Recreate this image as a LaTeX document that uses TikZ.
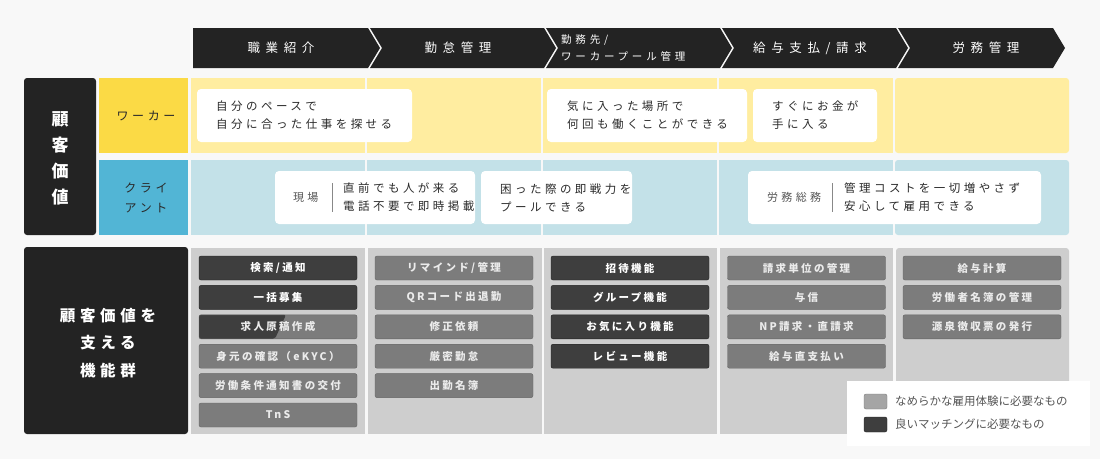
\documentclass[tikz,border=0pt]{standalone}
\usepackage{fontspec}
\setmainfont{Noto Sans CJK JP}
\newfontfamily\jptrack[LetterSpace=30]{Noto Sans CJK JP}
\newfontfamily\jpwide[LetterSpace=45]{Noto Sans CJK JP}
\newfontfamily\jpmid[LetterSpace=36]{Noto Sans CJK JP}
\newfontfamily\jpbtn[LetterSpace=22]{Noto Sans CJK JP}
\usepackage{xcolor}
\definecolor{kkbg}{HTML}{F8F8F8}
\definecolor{kkblack}{HTML}{232323}
\definecolor{kkyellow}{HTML}{FBDA45}
\definecolor{kkyellowlt}{HTML}{FFEDA0}
\definecolor{kkblue}{HTML}{52B5D5}
\definecolor{kkbluelt}{HTML}{C3E1E8}
\definecolor{kkcol}{HTML}{CECECE}
\definecolor{kkbtndark}{HTML}{3E3E3E}
\definecolor{kkbtnmid}{HTML}{7C7C7C}
\definecolor{kklegmid}{HTML}{A5A5A5}
\definecolor{kktext}{HTML}{2A2A2A}
\definecolor{kksubtext}{HTML}{555555}
\usepackage{tikz}
\usetikzlibrary{positioning, calc}

\begin{document}
\begin{tikzpicture}[
    x=1pt, y=-1pt,
    node distance=5pt,
    chev/.style={fill=kkblack},
    chevtext/.style={font=\jpwide\fontsize{12.5}{14}\selectfont, text=white},
    bubble/.style={fill=white, rounded corners=4pt},
    bubbletext/.style={font=\jptrack\fontsize{11.5}{18}\selectfont, text=kktext, align=left, anchor=west, inner sep=0pt},
    sitetag/.style={font=\jptrack\fontsize{11}{13}\selectfont, text=kksubtext, anchor=west, inner sep=0pt},
    btn/.style={rounded corners=2pt, minimum width=158pt, minimum height=24pt, inner sep=0pt, font=\jpbtn\bfseries\fontsize{10.5}{12}\selectfont},
    btndark/.style={btn, fill=kkbtndark, draw=kkblack, text=white},
    btnmid/.style={btn, fill=kkbtnmid, draw=kkbtndark!80, text=white!92!black},
    legtext/.style={font=\fontsize{11.5}{13}\selectfont, text=kksubtext, anchor=west, inner sep=0pt},
]

\useasboundingbox (0,0) rectangle (1100,459);
\fill[kkbg] (0,0) rectangle (1100,459);

% Header chevrons
\fill[chev] (193,28) -- (368,28) -- (380,48) -- (368,68) -- (193,68) -- cycle;
\fill[chev] (370,28) -- (544,28) -- (556,48) -- (544,68) -- (370,68) -- (382,48) -- cycle;
\fill[chev] (546,28) -- (720,28) -- (732,48) -- (720,68) -- (546,68) -- (558,48) -- cycle;
\fill[chev] (722,28) -- (896,28) -- (908,48) -- (896,68) -- (722,68) -- (734,48) -- cycle;
\fill[chev] (898,28) -- (1053,28) -- (1065,48) -- (1053,68) -- (898,68) -- (910,48) -- cycle;

\node[chevtext] (shokugyo) at (281,48) {職業紹介};
\node[chevtext] (kintai) at (458,48) {勤怠管理};
\node[chevtext, font=\jpmid\fontsize{10.5}{17}\selectfont, align=left, anchor=west, inner sep=0pt] (pool) at (561,48.5) {勤務先/\\ワーカープール管理};
\node[chevtext] (kyuyo) at (810,48) {給与支払/請求};
\node[chevtext] (romu) at (986,48) {労務管理};

% Customer value rows
\fill[kkblack, rounded corners=3pt] (24,78) rectangle (96,235);
\node[font=\bfseries\fontsize{17}{26}\selectfont, text=white, align=center] (kachi) at (60,158) {顧\\客\\価\\値};

\fill[kkyellow] (99,78) rectangle (188,153);
\node[chevtext, text=kktext, font=\jptrack\fontsize{12}{14}\selectfont] (worker) at (146,116) {ワーカー};
\fill[kkblue] (99,160) rectangle (188,235);
\node[chevtext, text=kktext, align=center, font=\jptrack\fontsize{12}{20}\selectfont] (client) at (146,198) {クライ\\アント};

\fill[kkyellowlt] (191,78) rectangle (365,153);
\fill[kkyellowlt] (367,78) rectangle (541,153);
\fill[kkyellowlt] (543,78) rectangle (717,153);
\fill[kkyellowlt] (719,78) rectangle (893,153);
\fill[kkyellowlt, rounded corners=3pt] (895,78) rectangle (1069,153);

\fill[kkbluelt] (191,160) rectangle (365,235);
\fill[kkbluelt] (367,160) rectangle (541,235);
\fill[kkbluelt] (543,160) rectangle (717,235);
\fill[kkbluelt] (719,160) rectangle (893,235);
\fill[kkbluelt, rounded corners=3pt] (895,160) rectangle (1069,235);

% Worker values
\fill[bubble] (197,89) rectangle (412,142);
\node[bubbletext] (pace) at (216,115.5) {自分のペースで\\自分に合った仕事を探せる};
\fill[bubble] (547,89) rectangle (747,142);
\node[bubbletext] (basho) at (567,115.5) {気に入った場所で\\何回も働くことができる};
\fill[bubble] (753,89) rectangle (877,142);
\node[bubbletext] (okane) at (772,115.5) {すぐにお金が\\手に入る};

% Client values
\fill[bubble] (275,171) rectangle (475,224);
\node[sitetag] (genba) at (293,197.5) {現場};
\draw[kksubtext!70, line width=1pt] (332,183) -- (332,212);
\node[bubbletext] (chokuzen) at (343,197.5) {直前でも人が来る\\電話不要で即時掲載};
\fill[bubble] (481,171) rectangle (632,224);
\node[bubbletext] (sokusen) at (500,197.5) {困った際の即戦力を\\プールできる};
\fill[bubble] (748,171) rectangle (1041,224);
\node[sitetag] (somu) at (767,197.5) {労務総務};
\draw[kksubtext!70, line width=1pt] (832,183) -- (832,212);
\node[bubbletext] (cost) at (844,197.5) {管理コストを一切増やさず\\安心して雇用できる};

% Feature groups
\fill[kkblack, rounded corners=3pt] (24,247) rectangle (188,434);
\node[font=\jptrack\bfseries\fontsize{15.5}{27.5}\selectfont, text=white, align=center] (kinou) at (108,343) {顧客価値を\\支える\\機能群};

\fill[kkcol] (191,248) rectangle (365,434);
\fill[kkcol] (368,248) rectangle (542,434);
\fill[kkcol] (544,248) rectangle (717,434);
\fill[kkcol] (720,248) rectangle (893,434);
\fill[kkcol, rounded corners=3pt] (896,248) rectangle (1069,434);

% 職業紹介
\node[btndark] (kensaku) at (278,268) {検索/通知};
\node[btndark, below=of kensaku] (ikkatsu) {一括募集};
\node[btnmid, below=of ikkatsu, path picture={
    \fill[kkbtndark] (path picture bounding box.south west) -- (path picture bounding box.north west)
      -- ([xshift=87pt]path picture bounding box.north west) -- ([xshift=76pt]path picture bounding box.south west) -- cycle;
  }] (genko) {求人原稿作成};
\node[btnmid, below=of genko] (ekyc) {身元の確認（eKYC）};
\node[btnmid, below=of ekyc] (joken) {労働条件通知書の交付};
\node[btnmid, below=of joken] (tns) {TnS};

% 勤怠管理
\node[btnmid] (remind) at (454,268) {リマインド/管理};
\node[btnmid, below=of remind] (qr) {QRコード出退勤};
\node[btnmid, below=of qr] (shusei) {修正依頼};
\node[btnmid, below=of shusei] (genmitsu) {厳密勤怠};
\node[btnmid, below=of genmitsu] (meibo) {出勤名簿};

% ワーカープール管理
\node[btndark] (shotai) at (630,268) {招待機能};
\node[btndark, below=of shotai] (group) {グループ機能};
\node[btndark, below=of group] (okiniiri) {お気に入り機能};
\node[btndark, below=of okiniiri] (review) {レビュー機能};

% 給与支払/請求
\node[btnmid] (seikyu) at (806.5,268) {請求単位の管理};
\node[btnmid, below=of seikyu] (yoshin) {与信};
\node[btnmid, below=of yoshin] (np) {NP請求・直請求};
\node[btnmid, below=of np] (jikibarai) {給与直支払い};

% 労務管理
\node[btnmid] (keisan) at (982,268) {給与計算};
\node[btnmid, below=of keisan] (rodosha) {労働者名簿の管理};
\node[btnmid, below=of rodosha] (gensen) {源泉徴収票の発行};

% Legend
\fill[white] (847,381) rectangle (1090,446);
\fill[kklegmid, rounded corners=2pt, draw=kkbtnmid] (864,394) rectangle (887,409);
\node[legtext] (smooth) at (895,401.5) {なめらかな雇用体験に必要なもの};
\fill[kkbtndark, rounded corners=2pt, draw=kkblack] (864,417) rectangle (887,432);
\node[legtext] (matching) at (895,424.5) {良いマッチングに必要なもの};

\end{tikzpicture}
\end{document}
